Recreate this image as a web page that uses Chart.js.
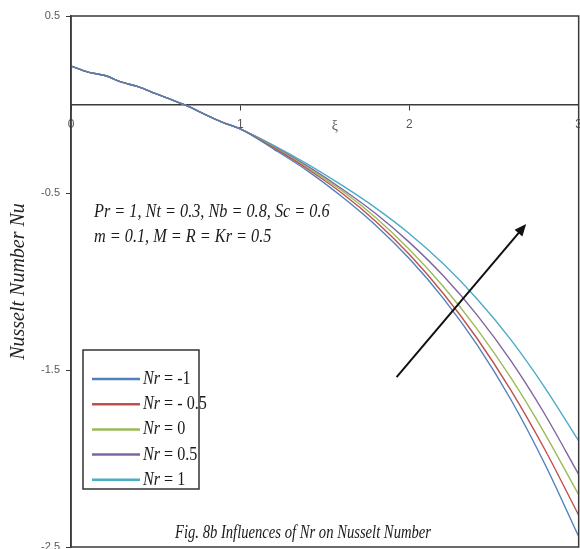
<!DOCTYPE html>
<html>
<head>
<meta charset="utf-8">
<script src="https://cdn.jsdelivr.net/npm/chart.js@4"></script>
<style>
    html, body { margin: 0; padding: 0; background: #fff; overflow: hidden; }
    #wrap { width: 590px; height: 560px; }
</style>
</head>
<body>
<div id="wrap"><canvas id="nu-chart" width="590" height="560"></canvas></div>
<script>
// Grid of xi values
const xi = [0, 0.1, 0.2, 0.3, 0.4, 0.5, 0.6, 0.7, 0.8, 0.9, 1.0, 1.2, 1.4, 1.6, 1.8, 2.0, 2.2, 2.4, 2.6, 2.8, 3.0];

// Nusselt number for each Nr
const nuNrMinus1 = [0.217, 0.183, 0.164, 0.126, 0.100, 0.061, 0.025, -0.014, -0.060, -0.102, -0.138, -0.253, -0.376, -0.520, -0.682, -0.872, -1.095, -1.358, -1.668, -2.031, -2.440];
const nuNrMinus05 = [0.217, 0.183, 0.164, 0.126, 0.100, 0.061, 0.025, -0.014, -0.060, -0.102, -0.138, -0.247, -0.366, -0.500, -0.659, -0.848, -1.068, -1.322, -1.615, -1.949, -2.320];
const nuNr0 = [0.217, 0.183, 0.164, 0.126, 0.100, 0.061, 0.025, -0.014, -0.060, -0.102, -0.138, -0.242, -0.358, -0.486, -0.638, -0.819, -1.028, -1.269, -1.545, -1.859, -2.205];
const nuNr05 = [0.217, 0.183, 0.164, 0.126, 0.100, 0.061, 0.025, -0.014, -0.060, -0.102, -0.138, -0.238, -0.350, -0.476, -0.616, -0.779, -0.968, -1.190, -1.449, -1.750, -2.090];
const nuNr1 = [0.217, 0.183, 0.164, 0.126, 0.100, 0.061, 0.025, -0.014, -0.060, -0.102, -0.138, -0.232, -0.338, -0.456, -0.584, -0.730, -0.900, -1.099, -1.330, -1.599, -1.900];

const seriesLabels = ['Nr = -1', 'Nr = - 0.5', 'Nr = 0', 'Nr = 0.5', 'Nr = 1'];
const seriesColors = ['#4F81BD', '#C0504D', '#9BBB59', '#8064A2', '#4BACC6'];

// Tick labels
const xTicks = [0, 1, 2, 3];
const yTicks = [0.5, -0.5, -1.5, -2.5];

// Texts on the chart
const paramLines = ['Pr = 1, Nt = 0.3, Nb = 0.8, Sc = 0.6', 'm = 0.1, M = R = Kr = 0.5'];
const captionText = 'Fig. 8b Influences of Nr on Nusselt Number';
const yTitle = 'Nusselt Number Nu';
const xTitle = 'ξ';

const serif = '"Liberation Serif", "DejaVu Serif", serif';
const sans = '"Liberation Sans", Arial, sans-serif';

// Build datasets from the arrays above
function buildDatasets() {
    const all = [nuNrMinus1, nuNrMinus05, nuNr0, nuNr05, nuNr1];
    return all.map((values, i) => ({
        label: seriesLabels[i],
        data: xi.map((x, j) => ({ x: x, y: values[j] })),
        borderColor: seriesColors[i],
        borderWidth: 1.4,
        pointRadius: 0,
        fill: false,
        cubicInterpolationMode: 'monotone'
    }));
}

// Draw text squeezed horizontally (the original uses a narrow serif)
function narrowText(ctx, text, x, y, sx) {
    ctx.save();
    ctx.translate(x, y);
    ctx.scale(sx, 1);
    ctx.fillText(text, 0, 0);
    const w = ctx.measureText(text).width * sx;
    ctx.restore();
    return w;
}

// Frame, annotations, arrow, legend and caption
const decorations = {
    id: 'decorations',
    afterDraw(chart) {
        const ctx = chart.ctx;
        const area = chart.chartArea;
        const xs = chart.scales.x;
        const ys = chart.scales.y;
        ctx.save();

        // plot frame
        ctx.strokeStyle = '#3a3a3a';
        ctx.lineWidth = 1.5;
        ctx.strokeRect(area.left, area.top, area.right - area.left, area.bottom - area.top);

        // xi label sitting in the tick row
        ctx.fillStyle = '#595959';
        ctx.font = '14px ' + serif;
        ctx.textAlign = 'center';
        ctx.textBaseline = 'middle';
        ctx.fillText(xTitle, xs.getPixelForValue(1.56), ys.getPixelForValue(0) + 22);

        // parameter text
        ctx.fillStyle = '#1a1a1a';
        ctx.font = 'italic 19px ' + serif;
        ctx.textAlign = 'left';
        ctx.textBaseline = 'alphabetic';
        narrowText(ctx, paramLines[0], 94, 217, 0.855);
        narrowText(ctx, paramLines[1], 94, 242, 0.855);

        // arrow
        const x0 = xs.getPixelForValue(1.924), y0 = ys.getPixelForValue(-1.54);
        const x1 = xs.getPixelForValue(2.69), y1 = ys.getPixelForValue(-0.675);
        const ang = Math.atan2(y1 - y0, x1 - x0);
        ctx.strokeStyle = '#111';
        ctx.lineWidth = 2;
        ctx.beginPath();
        ctx.moveTo(x0, y0);
        ctx.lineTo(x1 - 8 * Math.cos(ang), y1 - 8 * Math.sin(ang));
        ctx.stroke();
        ctx.fillStyle = '#111';
        ctx.beginPath();
        ctx.moveTo(x1, y1);
        ctx.lineTo(x1 - 13 * Math.cos(ang - 0.4), y1 - 13 * Math.sin(ang - 0.4));
        ctx.lineTo(x1 - 13 * Math.cos(ang + 0.4), y1 - 13 * Math.sin(ang + 0.4));
        ctx.closePath();
        ctx.fill();

        // legend box
        ctx.fillStyle = '#fff';
        ctx.fillRect(83, 350, 116, 139);
        ctx.strokeStyle = '#333';
        ctx.lineWidth = 1.5;
        ctx.strokeRect(83, 350, 116, 139);
        chart.data.datasets.forEach((ds, i) => {
            const ly = 379 + i * 25.2;
            ctx.strokeStyle = ds.borderColor;
            ctx.lineWidth = 2.5;
            ctx.beginPath();
            ctx.moveTo(92, ly);
            ctx.lineTo(140, ly);
            ctx.stroke();
            ctx.fillStyle = '#1a1a1a';
            ctx.font = 'italic 19px ' + serif;
            const w = narrowText(ctx, ds.label.slice(0, 2), 143, ly + 5, 0.85);
            ctx.font = '19px ' + serif;
            narrowText(ctx, ds.label.slice(2), 143 + w, ly + 5, 0.85);
        });

        // caption
        ctx.fillStyle = '#1a1a1a';
        ctx.font = 'italic 19px ' + serif;
        narrowText(ctx, captionText, 175, 538, 0.77);

        ctx.restore();
    }
};

document.addEventListener('DOMContentLoaded', () => {
    const ctx = document.getElementById('nu-chart').getContext('2d');
    new Chart(ctx, {
        type: 'line',
        data: { datasets: buildDatasets() },
        options: {
            responsive: false,
            animation: false,
            layout: { padding: { left: 0, top: 16, right: 11, bottom: 13 } },
            plugins: {
                legend: { display: false },
                tooltip: { enabled: false }
            },
            scales: {
                x: {
                    type: 'linear',
                    position: { y: 0 },
                    min: 0,
                    max: 3,
                    afterBuildTicks: scale => { scale.ticks = xTicks.map(v => ({ value: v })); },
                    grid: { drawOnChartArea: false, drawTicks: true, tickLength: 5, color: '#3a3a3a' },
                    border: { display: true, color: '#3a3a3a', width: 1.5 },
                    ticks: { color: '#595959', padding: 8, font: { family: sans, size: 12 } }
                },
                y: {
                    type: 'linear',
                    position: 'left',
                    min: -2.5,
                    max: 0.5,
                    afterBuildTicks: scale => { scale.ticks = yTicks.map(v => ({ value: v })); },
                    afterFit: scale => { scale.width = 71; },
                    grid: { drawOnChartArea: false, drawTicks: true, tickLength: 5, color: '#3a3a3a' },
                    border: { display: true, color: '#3a3a3a', width: 1.5 },
                    ticks: { color: '#595959', padding: 6, font: { family: sans, size: 11 } },
                    title: {
                        display: true,
                        text: yTitle,
                        color: '#222',
                        padding: { top: 7, bottom: 0 },
                        font: { family: serif, size: 20, style: 'italic' }
                    }
                }
            }
        },
        plugins: [decorations]
    });
});
</script>
</body>
</html>
